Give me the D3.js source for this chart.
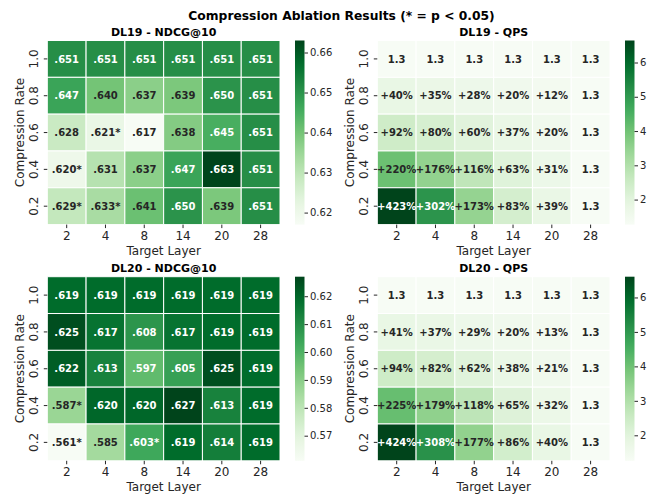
<!DOCTYPE html>
<html>
<head>
<meta charset="utf-8">
<script src="https://cdn.jsdelivr.net/npm/d3@7"></script>
<style>
  body { margin: 0; background: #fff; }
  svg text { font-family: "DejaVu Sans", sans-serif; }
</style>
</head>
<body>
<svg id="chart" width="657" height="495"></svg>
<script>
// Chart data (rows are compression rates, top to bottom)
const rates = ["1.0", "0.8", "0.6", "0.4", "0.2"];
const layers = ["2", "4", "8", "14", "20", "28"];

const dl19Ndcg = [
    [0.651, 0.651, 0.651, 0.651, 0.651, 0.651],
    [0.647, 0.640, 0.637, 0.639, 0.650, 0.651],
    [0.628, 0.621, 0.617, 0.638, 0.645, 0.651],
    [0.620, 0.631, 0.637, 0.647, 0.663, 0.651],
    [0.629, 0.633, 0.641, 0.650, 0.639, 0.651]
];
const dl19Sig = [
    [0, 0, 0, 0, 0, 0],
    [0, 0, 0, 0, 0, 0],
    [0, 1, 0, 0, 0, 0],
    [1, 0, 0, 0, 0, 0],
    [1, 1, 0, 0, 0, 0]
];
const dl20Ndcg = [
    [0.619, 0.619, 0.619, 0.619, 0.619, 0.619],
    [0.625, 0.617, 0.608, 0.617, 0.619, 0.619],
    [0.622, 0.613, 0.597, 0.605, 0.625, 0.619],
    [0.587, 0.620, 0.620, 0.627, 0.613, 0.619],
    [0.561, 0.585, 0.603, 0.619, 0.614, 0.619]
];
const dl20Sig = [
    [0, 0, 0, 0, 0, 0],
    [0, 0, 0, 0, 0, 0],
    [0, 0, 0, 0, 0, 0],
    [1, 0, 0, 0, 0, 0],
    [1, 0, 1, 0, 0, 0]
];

// QPS speed-up over the uncompressed baseline (null = baseline, shown as QPS)
const dl19QpsBase = 1.27;
const dl19QpsGain = [
    [null, null, null, null, null, null],
    [40, 35, 28, 20, 12, null],
    [92, 80, 60, 37, 20, null],
    [220, 176, 116, 63, 31, null],
    [423, 302, 173, 83, 39, null]
];
const dl20QpsBase = 1.26;
const dl20QpsGain = [
    [null, null, null, null, null, null],
    [41, 37, 29, 20, 13, null],
    [94, 82, 62, 38, 21, null],
    [225, 179, 118, 65, 32, null],
    [424, 308, 177, 86, 40, null]
];

// matplotlib "Greens" (linear segments through the ColorBrewer stops)
const greens = d3.piecewise(d3.interpolateRgb, [
    "#f7fcf5", "#e5f5e0", "#c7e9c0", "#a1d99b", "#74c476",
    "#41ab5d", "#238b45", "#006d2c", "#00441b"
]);

function luminance(color) {
    const c = d3.rgb(color);
    const lin = v => {
        v /= 255;
        return v <= 0.03928 ? v / 12.92 : Math.pow((v + 0.055) / 1.055, 2.4);
    };
    return 0.2126 * lin(c.r) + 0.7152 * lin(c.g) + 0.0722 * lin(c.b);
}

function ndcgCells(values, sig) {
    return values.flatMap((row, r) => row.map((v, c) => ({
        r, c, value: v,
        label: d3.format(".3f")(v).replace(/^0/, "") + (sig[r][c] ? "*" : "")
    })));
}

function qpsCells(base, gains) {
    return gains.flatMap((row, r) => row.map((g, c) => ({
        r, c,
        value: g === null ? base : base * (1 + g / 100),
        label: g === null ? d3.format(".1f")(base) : "+" + g + "%"
    })));
}

const svg = d3.select("#chart");

svg.append("text")
    .attr("x", 341.5)
    .attr("y", 19.5)
    .attr("text-anchor", "middle")
    .attr("font-size", 12.3)
    .attr("font-weight", "bold")
    .attr("fill", "#000")
    .text("Compression Ablation Results (* = p < 0.05)");

const panels = [
    { title: "DL19 - NDCG@10", cells: ndcgCells(dl19Ndcg, dl19Sig), left: 47.3, top: 40.5 },
    { title: "DL19 - QPS", cells: qpsCells(dl19QpsBase, dl19QpsGain), left: 377.3, top: 40.5 },
    { title: "DL20 - NDCG@10", cells: ndcgCells(dl20Ndcg, dl20Sig), left: 47.3, top: 276.7 },
    { title: "DL20 - QPS", cells: qpsCells(dl20QpsBase, dl20QpsGain), left: 377.3, top: 276.7 }
];

const mapW = 232.7, mapH = 184.1;

panels.forEach((p, i) => drawHeatmap(p, i));

function drawHeatmap(p, idx) {
    const g = svg.append("g").attr("transform", `translate(${p.left},${p.top})`);

    const x = d3.scaleBand().domain(layers).range([0, mapW]);
    const y = d3.scaleBand().domain(rates).range([0, mapH]);
    const [vmin, vmax] = d3.extent(p.cells, d => d.value);
    const color = d3.scaleSequential(greens).domain([vmin, vmax]);

    g.append("g")
        .selectAll("rect")
        .data(p.cells)
        .join("rect")
        .attr("x", d => x(layers[d.c]))
        .attr("y", d => y(rates[d.r]))
        .attr("width", x.bandwidth())
        .attr("height", y.bandwidth())
        .attr("fill", d => color(d.value))
        .attr("stroke", "#fff")
        .attr("stroke-width", 1);

    g.append("g")
        .selectAll("text")
        .data(p.cells)
        .join("text")
        .attr("x", d => x(layers[d.c]) + x.bandwidth() / 2)
        .attr("y", d => y(rates[d.r]) + y.bandwidth() / 2)
        .attr("dy", "0.36em")
        .attr("text-anchor", "middle")
        .attr("font-size", 10)
        .attr("font-weight", "bold")
        .attr("fill", d => luminance(color(d.value)) > 0.408 ? "#262626" : "#fff")
        .text(d => d.label);

    // Title
    g.append("text")
        .attr("x", mapW / 2)
        .attr("y", -4.5)
        .attr("text-anchor", "middle")
        .attr("font-size", 11)
        .attr("font-weight", "bold")
        .attr("fill", "#000")
        .text(p.title);

    // X axis
    const xAxis = g.append("g")
        .attr("transform", `translate(0,${mapH})`)
        .call(d3.axisBottom(x).tickSizeOuter(0).tickSize(3.5).tickPadding(3));
    xAxis.select(".domain").remove();
    xAxis.selectAll("text").attr("font-size", 12).attr("fill", "#262626")
        .attr("font-family", "DejaVu Sans");
    xAxis.selectAll("line").attr("stroke", "#262626");

    g.append("text")
        .attr("x", mapW / 2)
        .attr("y", mapH + 30.5)
        .attr("text-anchor", "middle")
        .attr("font-size", 12)
        .attr("fill", "#262626")
        .text("Target Layer");

    // Y axis with rotated tick labels
    const yAxis = g.append("g")
        .call(d3.axisLeft(y).tickSizeOuter(0).tickSize(3.5));
    yAxis.select(".domain").remove();
    yAxis.selectAll("line").attr("stroke", "#262626");
    yAxis.selectAll("text")
        .attr("font-size", 12)
        .attr("fill", "#262626")
        .attr("font-family", "DejaVu Sans")
        .attr("x", null)
        .attr("dy", null)
        .attr("text-anchor", "middle")
        .attr("transform", "translate(-9.5,0) rotate(-90)");

    g.append("text")
        .attr("transform", `translate(-23,${mapH / 2}) rotate(-90)`)
        .attr("text-anchor", "middle")
        .attr("font-size", 12)
        .attr("fill", "#262626")
        .text("Compression Rate");

    // Colorbar
    const cbX = mapW + 15, cbW = 9.5;
    const gradId = "grad" + idx;
    const grad = svg.append("defs").append("linearGradient")
        .attr("id", gradId)
        .attr("x1", 0).attr("y1", 1).attr("x2", 0).attr("y2", 0);
    d3.range(0, 1.0001, 0.05).forEach(t => {
        grad.append("stop")
            .attr("offset", t)
            .attr("stop-color", greens(t));
    });
    g.append("rect")
        .attr("x", cbX)
        .attr("y", 0)
        .attr("width", cbW)
        .attr("height", mapH)
        .attr("fill", `url(#${gradId})`);

    const cbScale = d3.scaleLinear().domain([vmin, vmax]).range([mapH, 0]);
    const ticks = cbScale.ticks(6);
    const fmt = vmax > 1 ? d3.format("d") : d3.format(".2f");
    const cbAxis = g.append("g")
        .attr("transform", `translate(${cbX + cbW},0)`)
        .call(d3.axisRight(cbScale).tickValues(ticks).tickFormat(fmt).tickSize(3.5).tickPadding(2));
    cbAxis.select(".domain").remove();
    cbAxis.selectAll("line").attr("stroke", "#262626");
    cbAxis.selectAll("text").attr("font-size", 10).attr("fill", "#262626")
        .attr("font-family", "DejaVu Sans");
}
</script>
</body>
</html>
